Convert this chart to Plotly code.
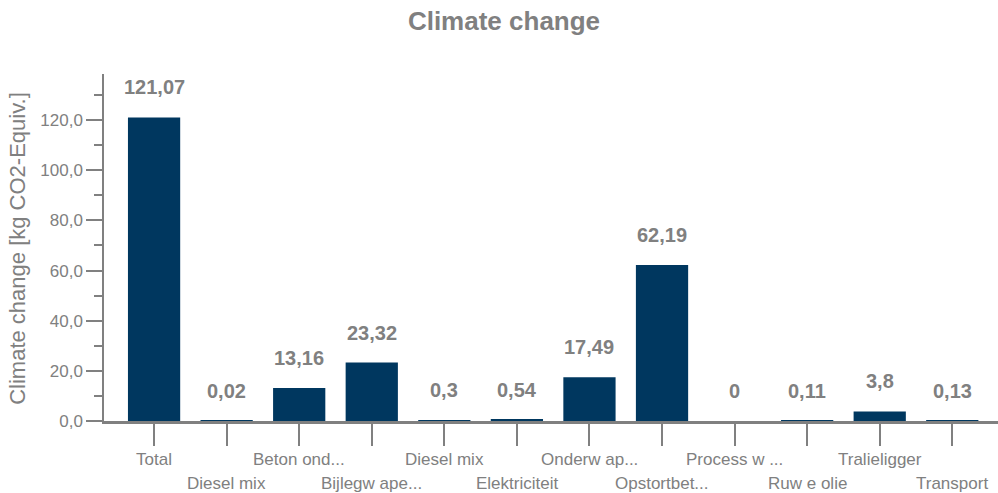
import plotly.graph_objects as go

# Process contributions to climate change
categories = ["Total", "Diesel mix", "Beton ond...", "Bijlegw ape...", "Diesel mix",
              "Elektriciteit", "Onderw ap...", "Opstortbet...", "Process w ...",
              "Ruw e olie", "Tralieligger", "Transport"]
values = [121.07, 0.02, 13.16, 23.32, 0.3, 0.54, 17.49, 62.19, 0, 0.11, 3.8, 0.13]
value_labels = ["121,07", "0,02", "13,16", "23,32", "0,3", "0,54", "17,49", "62,19",
                "0", "0,11", "3,8", "0,13"]

GRAY = "#808080"
BAR = "#00375f"
FONT = "Liberation Sans, Arial, sans-serif"

xs = list(range(len(categories)))

fig = go.Figure(go.Bar(
    x=xs, y=values, width=0.72, marker=dict(color=BAR, line=dict(width=0)),
    hoverinfo="skip",
))

# value labels above each bar
for x, v, t in zip(xs, values, value_labels):
    fig.add_annotation(x=x, y=v, text=t, showarrow=False, yanchor="middle",
                       yshift=30, font=dict(family=FONT, size=20, color=GRAY, weight="bold"))

# category labels, staggered on two rows
for i, c in enumerate(categories):
    fig.add_annotation(x=i, y=0, xref="x", yref="paper", text=c, showarrow=False,
                       xanchor="center", yanchor="middle", yshift=-38 if i % 2 == 0 else -62,
                       font=dict(family=FONT, size=17, color=GRAY))

fig.add_annotation(x=-0.097, y=0.497, xref="paper", yref="paper", text="Climate change [kg CO2-Equiv.]",
                   textangle=-90, showarrow=False, xanchor="center", yanchor="middle",
                   font=dict(family=FONT, size=22, color=GRAY))

fig.update_layout(
    width=998, height=493,
    margin=dict(l=104, r=0, t=74, b=72),
    paper_bgcolor="white", plot_bgcolor="white",
    separators=",.",
    showlegend=False,
    title=dict(text="<b>Climate change</b>", x=0.505, xanchor="center", y=0.958, yanchor="middle",
               font=dict(family=FONT, size=26, color=GRAY)),
    xaxis=dict(
        range=[-0.69, 11.63], tickmode="array", tickvals=xs, showticklabels=False,
        automargin=False,
        showgrid=False, zeroline=False, showline=True, linecolor=GRAY, linewidth=3,
        ticks="outside", ticklen=22, tickcolor=GRAY, tickwidth=1.5,
    ),
    yaxis=dict(
        range=[0, 138.4], tickmode="linear", tick0=0, dtick=20, tickformat=".1f",
        automargin=False,
        showgrid=False, zeroline=False, showline=True, linecolor=GRAY, linewidth=1.5,
        ticks="outside", ticklen=16, tickcolor=GRAY, tickwidth=1.5,
        tickfont=dict(family=FONT, size=17, color=GRAY),
        minor=dict(dtick=10, ticks="outside", ticklen=8, tickcolor=GRAY, tickwidth=1.5),
    ),
)

fig.write_html("out.html")
